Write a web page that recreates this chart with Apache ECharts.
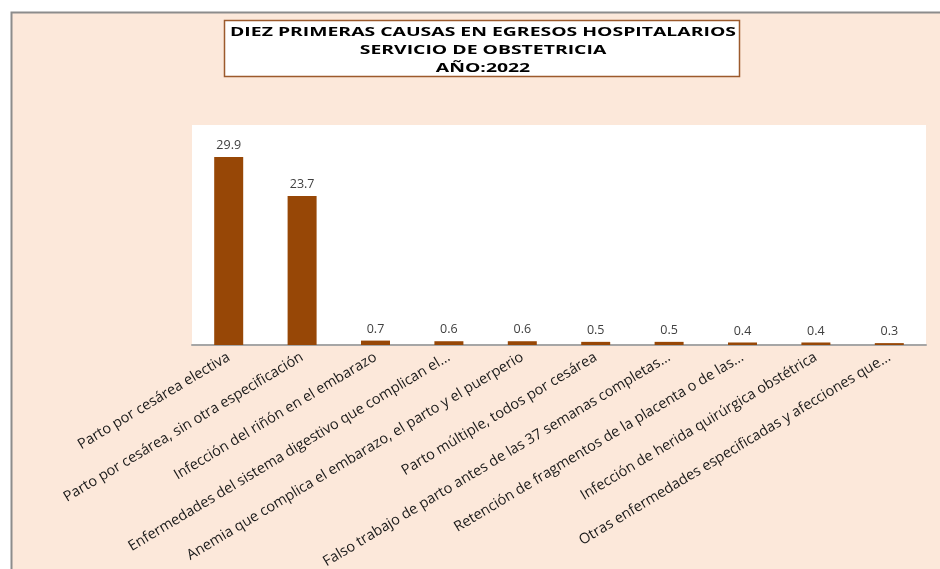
<!DOCTYPE html>
<html>
<head>
<meta charset="utf-8">
<script src="https://cdn.jsdelivr.net/npm/echarts@6/dist/echarts.min.js"></script>
<style>
  html, body { margin: 0; padding: 0; background: #ffffff; }
  #chart { width: 940px; height: 569px; }
</style>
</head>
<body>
<div id="chart"></div>
<script>
// Diez primeras causas de egresos hospitalarios, Servicio de Obstetricia, 2022 (%)
const causas = [
  'Parto por cesárea electiva',
  'Parto por cesárea, sin otra especificación',
  'Infección del riñón en el embarazo',
  'Enfermedades del sistema digestivo que complican el...',
  'Anemia que complica el embarazo, el parto y el puerperio',
  'Parto múltiple, todos por cesárea',
  'Falso trabajo de parto antes de las 37 semanas completas...',
  'Retención de fragmentos de la placenta o de las...',
  'Infección de herida quirúrgica obstétrica',
  'Otras enfermedades especificadas y afecciones que...'
];
const porcentajes = [29.9, 23.7, 0.7, 0.6, 0.6, 0.5, 0.5, 0.4, 0.4, 0.3];
const tituloLineas = [
  'DIEZ PRIMERAS CAUSAS EN EGRESOS HOSPITALARIOS',
  'SERVICIO DE OBSTETRICIA',
  'AÑO:2022'
];

const chart = echarts.init(document.getElementById('chart'));
chart.setOption({
  backgroundColor: '#ffffff',
  animation: false,
  graphic: [
    {
      type: 'rect', z: -10, silent: true,
      shape: { x: 11.5, y: 12.5, width: 940, height: 570 },
      style: { fill: '#fce8da', stroke: '#8c8c8c', lineWidth: 2 }
    },
    {
      type: 'rect', z: 10, silent: true,
      shape: { x: 224.5, y: 20.5, width: 515, height: 56 },
      style: { fill: '#ffffff', stroke: '#9c5a2c', lineWidth: 1.5 }
    },
    {
      // title block, widened horizontally like the rest of the sheet
      type: 'text', z: 11, silent: true,
      x: 483, y: 23,
      scaleX: 1.55,
      style: {
        text: tituloLineas.join('\n'),
        align: 'center',
        verticalAlign: 'top',
        font: 'bold 12.5px "Open Sans", sans-serif',
        lineHeight: 18,
        fill: '#000000'
      }
    }
  ],
  grid: {
    left: 192, right: 14, top: 125, bottom: 224,
    outerBoundsMode: 'none',
    containLabel: false,
    show: true, backgroundColor: '#ffffff', borderWidth: 0
  },
  xAxis: {
    type: 'category',
    data: causas,
    axisLine: { lineStyle: { color: '#a6a6a6', width: 2 } },
    axisTick: { show: false },
    axisLabel: {
      interval: 0,
      rotate: 31,
      margin: 11,
      color: '#1a1a1a',
      fontFamily: 'Open Sans',
      fontSize: 14.5
    }
  },
  yAxis: {
    type: 'value',
    min: 0, max: 35,
    show: false,
    splitLine: { show: false }
  },
  series: [{
    type: 'bar',
    data: porcentajes,
    barWidth: 29,
    itemStyle: { color: '#974706' },
    label: {
      show: true,
      position: 'top',
      distance: 5,
      color: '#404040',
      fontFamily: 'Open Sans',
      fontSize: 12.5,
      formatter: p => p.value.toFixed(1)
    }
  }]
});
</script>
</body>
</html>
